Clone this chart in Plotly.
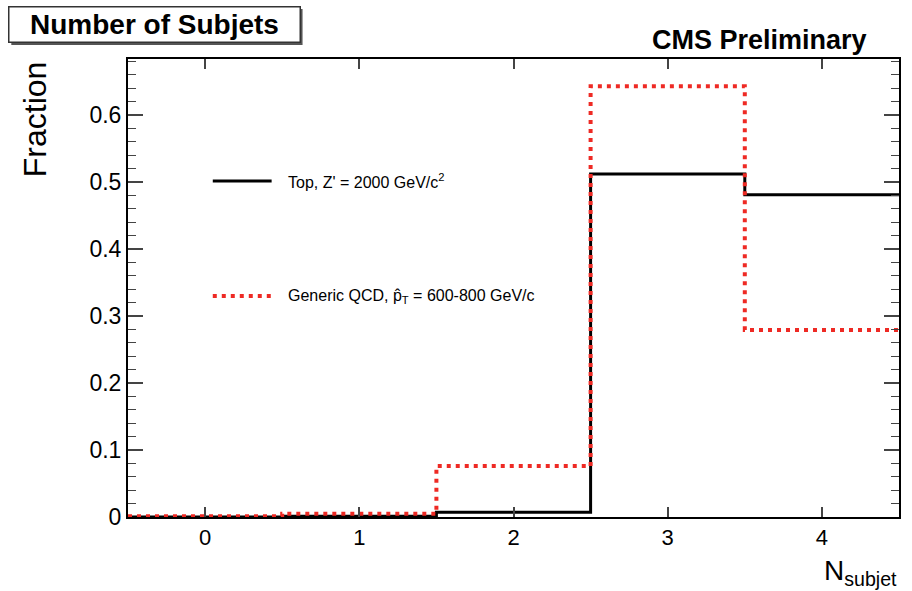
import plotly.graph_objects as go

# Data
n_subjet = [0, 1, 2, 3, 4]
top_frac = [0.0, 0.001, 0.007, 0.512, 0.481]
qcd_frac = [0.001, 0.005, 0.076, 0.643, 0.279]
top_label = "Top, Z' = 2000 GeV/c<sup>2</sup>"
qcd_label = "Generic QCD, p̂<sub>T</sub> = 600-800 GeV/c"
y_ticks = [0, 0.1, 0.2, 0.3, 0.4, 0.5, 0.6]
y_ticktext = ["0", "0.1", "0.2", "0.3", "0.4", "0.5", "0.6"]

def step(centers, vals):
    edges = [c - 0.5 for c in centers] + [centers[-1] + 0.5]
    return edges, list(vals) + [vals[-1]]

FONT = "Liberation Sans, Arial, sans-serif"
TOP_LINE = dict(color="black", width=3)
QCD_LINE = dict(color="#ee2a24", width=4, dash="4px,5px")

# plot area in pixels
L, R, T, B, W, H = 128, 11, 59, 74, 912, 591
PW, PH = W - L - R, H - T - B
def px(x):
    return (x - L) / PW
def py(y):
    return (H - B - y) / PH

fig = go.Figure()
xt, yt = step(n_subjet, top_frac)
xq, yq = step(n_subjet, qcd_frac)
fig.add_trace(go.Scatter(x=xt, y=yt, mode="lines", line_shape="hv",
                         line=TOP_LINE, name=top_label, showlegend=False))
fig.add_trace(go.Scatter(x=xq, y=yq, mode="lines", line_shape="hv",
                         line=QCD_LINE, name=qcd_label, showlegend=False))

fig.update_layout(
    width=W, height=H,
    margin=dict(l=L, r=R, t=T, b=B),
    paper_bgcolor="white", plot_bgcolor="white",
    font=dict(family=FONT, color="black"),
    xaxis=dict(range=[-0.5, 4.5], tickvals=n_subjet, ticks="inside", ticklen=10,
               tickwidth=2, showline=True, linewidth=2, linecolor="black",
               mirror="allticks", showgrid=False, zeroline=False,
               tickfont=dict(size=22, family=FONT)),
    yaxis=dict(range=[0, 0.6836], tickvals=y_ticks, ticktext=y_ticktext,
               ticks="inside", ticklen=15, tickwidth=1.5,
               minor=dict(ticks="inside", ticklen=8, dtick=0.02, tick0=0, tickwidth=1.2, showgrid=False),
               showline=True, linewidth=2, linecolor="black",
               mirror="allticks", showgrid=False, zeroline=False,
               tickfont=dict(size=23, family=FONT)),
)

# Legend (drawn manually to match ROOT TLegend layout)
for label, line, ypix in [(top_label, TOP_LINE, 181), (qcd_label, QCD_LINE, 296)]:
    fig.add_shape(type="line", xref="paper", yref="paper",
                  x0=px(213), x1=px(272), y0=py(ypix), y1=py(ypix), line=line)
    fig.add_annotation(text=label, xref="paper", yref="paper",
                       x=px(286), y=py(ypix), xanchor="left", yanchor="middle",
                       showarrow=False, font=dict(size=16, family=FONT))

# Title box with shadow
fig.add_shape(type="rect", xref="paper", yref="paper",
              x0=px(11), x1=px(303), y0=py(45), y1=py(9),
              fillcolor="#555", line=dict(width=0), layer="below")
fig.add_annotation(text="<b>Number of Subjets</b>", xref="paper", yref="paper",
                   x=px(8), y=py(6), xanchor="left", yanchor="top",
                   showarrow=False, font=dict(size=28, family=FONT),
                   bgcolor="white", bordercolor="#333", borderwidth=1.5,
                   width=288, height=32)
fig.add_annotation(text="<b>CMS Preliminary</b>", xref="paper", yref="paper",
                   x=px(871), y=py(40), xanchor="right", yanchor="middle",
                   showarrow=False, font=dict(size=27, family=FONT))
fig.add_annotation(text="Fraction", xref="paper", yref="paper",
                   x=px(35), y=1.0, xanchor="center", yanchor="top",
                   textangle=-90, showarrow=False, font=dict(size=32, family=FONT))
fig.add_annotation(text="N<sub>subjet</sub>", xref="paper", yref="paper",
                   x=1.0, y=py(H), xanchor="right", yanchor="bottom", yshift=-1,
                   showarrow=False, font=dict(size=28, family=FONT))

fig.write_html("out.html")
